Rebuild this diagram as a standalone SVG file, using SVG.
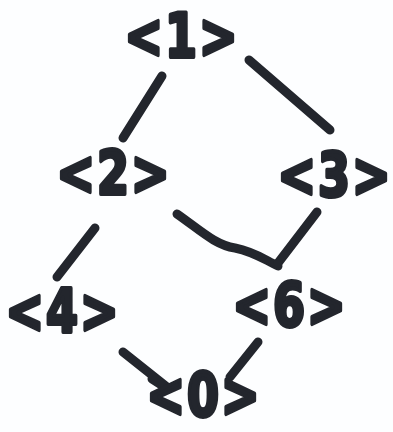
<svg xmlns="http://www.w3.org/2000/svg" width="393" height="432" viewBox="0 0 393 432">
<style>
.bg{fill:#fdfeff}
.lbl{font-family:"DejaVu Sans","Liberation Sans",sans-serif;font-weight:bold;font-size:46px;fill:#23262d;stroke:#23262d;stroke-width:3;stroke-linejoin:round;text-anchor:middle;letter-spacing:2px}
.e{fill:none;stroke:#23262d;stroke-width:9;stroke-linecap:round;stroke-linejoin:round}
</style>
<rect class="bg" x="0" y="0" width="393" height="432"/>
<g id="connectors">
<path class="e" d="M162,76 L123,138"/>
<path class="e" d="M249,60 L330,130"/>
<path class="e" d="M95,228 L57,277"/>
<path class="e" d="M177,214 C200,230 215,245 235,248 C255,252 265,260 278,266"/>
<path class="e" d="M317,212 L278,263"/>
<path class="e" d="M123,352 L167,387 M152,379 L166,388"/>
<path class="e" d="M258,342 L230,377"/>
</g>
<g id="n1"><text class="lbl" transform="translate(182,41) scale(1,1.3)" y="12">&lt;1&gt;</text></g>
<g id="n2"><text class="lbl" transform="translate(114,178) scale(1,1.3)" y="12">&lt;2&gt;</text></g>
<g id="n3"><text class="lbl" transform="translate(335,180) scale(1,1.3)" y="12">&lt;3&gt;</text></g>
<g id="n4"><text class="lbl" transform="translate(63,316) scale(1,1.3)" y="12">&lt;4&gt;</text></g>
<g id="n6"><text class="lbl" transform="translate(290,310) scale(1,1.3)" y="12">&lt;6&gt;</text></g>
<g id="n0"><text class="lbl" transform="translate(204,400) scale(1,1.3)" y="12">&lt;0&gt;</text></g>
</svg>
